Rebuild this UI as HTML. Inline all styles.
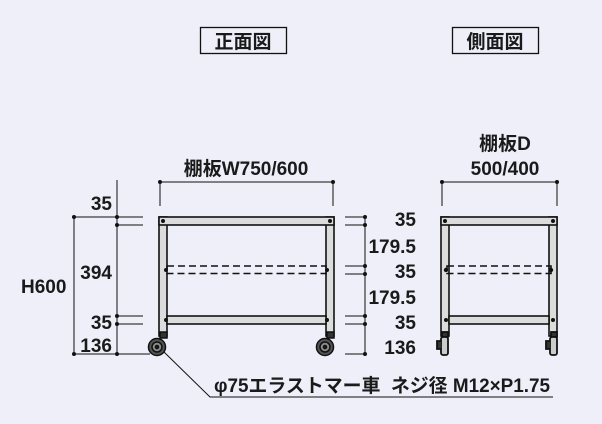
<!DOCTYPE html><html><head><meta charset="utf-8"><style>
html,body{margin:0;padding:0;background:#eeeff8;}
svg{display:block}
text{font-family:"Liberation Sans","Noto Sans CJK JP",sans-serif;fill:#1a1a1a;font-size:19px;font-weight:bold;}
</style></head><body>
<svg width="602" height="424" viewBox="0 0 602 424">
<rect width="602" height="424" fill="#eeeff8"/>
<g fill="none" stroke="#111" stroke-width="1.3">
<rect x="200.5" y="27.5" width="86" height="26"/>
<rect x="452.5" y="27.5" width="86" height="26"/>
</g>
<text x="243" y="48" text-anchor="middle" font-size="17">正面図</text>
<text x="495" y="48" text-anchor="middle" font-size="17">側面図</text>

<!-- FRONT -->
<g stroke="#111" stroke-width="1.6" fill="#dcdcdc">
<rect x="159" y="217" width="8" height="119"/>
<rect x="326" y="217" width="8" height="119"/>
<rect x="159" y="217" width="175" height="8"/>
<rect x="167" y="316" width="159" height="8"/>
</g>
<rect x="167" y="266" width="159" height="7.5" fill="none" stroke="#111" stroke-width="1.6" stroke-dasharray="7,4"/>
<g fill="#111">
<circle cx="163" cy="221" r="2"/><circle cx="330" cy="221" r="2"/>
<circle cx="166" cy="270" r="2"/><circle cx="327" cy="270" r="2"/>
<circle cx="166" cy="320" r="2"/><circle cx="327" cy="320" r="2"/>
</g>
<g stroke="#111" stroke-width="1.5">
<rect x="160" y="332" width="7" height="6" fill="#333"/>
<circle cx="157" cy="347" r="8.5" fill="#555"/><circle cx="157" cy="347" r="5" fill="#888"/><circle cx="157" cy="347" r="1.5" fill="#222"/>
<rect x="327" y="332" width="7" height="6" fill="#333"/>
<circle cx="325" cy="347" r="8.5" fill="#555"/><circle cx="325" cy="347" r="5" fill="#888"/><circle cx="325" cy="347" r="1.5" fill="#222"/>
</g>
<g stroke="#111" stroke-width="1" fill="none">
<line x1="160" y1="182" x2="333" y2="182"/>
<line x1="160" y1="182" x2="160" y2="206"/><line x1="333" y1="182" x2="333" y2="206"/>
<line x1="117" y1="180" x2="117" y2="354"/>
<line x1="74" y1="217" x2="74" y2="354"/>
<line x1="74" y1="217" x2="143" y2="217"/>
<line x1="117" y1="225" x2="143" y2="225"/>
<line x1="117" y1="316" x2="143" y2="316"/>
<line x1="117" y1="324" x2="143" y2="324"/>
<line x1="74" y1="354" x2="150" y2="354"/>
<line x1="365" y1="217" x2="365" y2="354"/>
<line x1="345" y1="217" x2="365" y2="217"/><line x1="345" y1="225" x2="365" y2="225"/>
<line x1="345" y1="266" x2="365" y2="266"/><line x1="345" y1="274" x2="365" y2="274"/>
<line x1="345" y1="316" x2="365" y2="316"/><line x1="345" y1="324" x2="365" y2="324"/>
<line x1="345" y1="354" x2="365" y2="354"/>
<polyline points="164,352 210,397 553,397"/>
<line x1="442" y1="182" x2="557" y2="182"/>
<line x1="442" y1="182" x2="442" y2="206"/><line x1="557" y1="182" x2="557" y2="206"/>
</g>
<g fill="#111">
<circle cx="160" cy="182" r="2"/><circle cx="333" cy="182" r="2"/>
<circle cx="442" cy="182" r="2"/><circle cx="557" cy="182" r="2"/>
<circle cx="74" cy="217" r="2"/><circle cx="74" cy="354" r="2"/>
<circle cx="117" cy="217" r="2"/><circle cx="117" cy="225" r="2"/><circle cx="117" cy="316" r="2"/><circle cx="117" cy="324" r="2"/><circle cx="117" cy="354" r="2"/>
<circle cx="365" cy="217" r="2"/><circle cx="365" cy="225" r="2"/><circle cx="365" cy="266" r="2"/><circle cx="365" cy="274" r="2"/><circle cx="365" cy="316" r="2"/><circle cx="365" cy="324" r="2"/><circle cx="365" cy="354" r="2"/>
</g>

<!-- SIDE -->
<g stroke="#111" stroke-width="1.6" fill="#dcdcdc">
<rect x="441" y="217" width="8" height="119"/>
<rect x="549" y="217" width="8" height="119"/>
<rect x="441" y="217" width="116" height="8"/>
<rect x="449" y="316" width="100" height="8"/>
</g>
<rect x="447" y="266" width="104" height="7.5" fill="none" stroke="#111" stroke-width="1.6" stroke-dasharray="7,4"/>
<g fill="#111">
<circle cx="445" cy="221" r="2"/><circle cx="553" cy="221" r="2"/>
<circle cx="446" cy="270" r="2.2"/><circle cx="551" cy="270" r="2.2"/>
<circle cx="446" cy="320" r="2"/><circle cx="553" cy="320" r="2"/>
</g>
<g stroke="#111" stroke-width="1.8" fill="#ccc">
<rect x="442" y="332" width="6" height="5" fill="#333"/>
<rect x="441" y="337" width="7" height="18" rx="2"/>
<path d="M441 341 h-4 v8 h4" fill="#333"/>
<rect x="551" y="332" width="6" height="5" fill="#333"/>
<rect x="550" y="337" width="7" height="18" rx="2"/>
<path d="M550 341 h-4 v8 h4" fill="#333"/>
</g>

<text x="246" y="175" text-anchor="middle">棚板W750/600</text>
<text x="505" y="150" text-anchor="middle">棚板D</text>
<text x="505" y="175" text-anchor="middle">500/400</text>
<text x="112" y="210" text-anchor="end">35</text>
<text x="112" y="279" text-anchor="end">394</text>
<text x="112" y="329" text-anchor="end">35</text>
<text x="112" y="352" text-anchor="end">136</text>
<text x="21" y="293">H600</text>
<text x="416" y="226" text-anchor="end">35</text>
<text x="416" y="253" text-anchor="end">179.5</text>
<text x="416" y="278" text-anchor="end">35</text>
<text x="416" y="304" text-anchor="end">179.5</text>
<text x="416" y="329" text-anchor="end">35</text>
<text x="416" y="354" text-anchor="end">136</text>
<text x="214" y="392" textLength="336" lengthAdjust="spacingAndGlyphs">φ75エラストマー車&#160;&#160;ネジ径 M12×P1.75</text>
</svg>
</body></html>
